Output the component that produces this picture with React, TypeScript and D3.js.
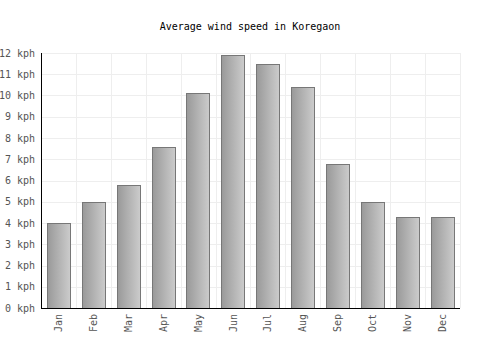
import React, { useRef, useEffect } from 'react';
import * as d3 from 'd3';

const months = ['Jan', 'Feb', 'Mar', 'Apr', 'May', 'Jun', 'Jul', 'Aug', 'Sep', 'Oct', 'Nov', 'Dec'];
const windSpeed = [4, 5, 5.8, 7.6, 10.1, 11.9, 11.5, 10.4, 6.8, 5, 4.3, 4.3];
const yTicks = [0, 1, 2, 3, 4, 5, 6, 7, 8, 9, 10, 11, 12];
const title = 'Average wind speed in Koregaon';

const width = 500;
const height = 350;
const font = "'DejaVu Sans Mono', monospace";

const App = () => {
  const svgRef = useRef<SVGSVGElement>(null);

  useEffect(() => {
    const svg = d3.select(svgRef.current);
    svg.selectAll('*').remove();

    const margin = { top: 53, right: 40, bottom: 42, left: 41 };
    const innerWidth = width - margin.left - margin.right;
    const innerHeight = height - margin.top - margin.bottom;

    const x = d3.scaleBand().domain(months).range([0, innerWidth]).padding(0);
    const y = d3.scaleLinear().domain([0, 12]).range([innerHeight, 0]);

    const grad = svg.append('defs').append('linearGradient')
      .attr('id', 'barGrad')
      .attr('x1', '0%').attr('x2', '100%').attr('y1', '0%').attr('y2', '0%');
    grad.append('stop').attr('offset', '0%').attr('stop-color', '#999');
    grad.append('stop').attr('offset', '100%').attr('stop-color', '#ccc');

    svg.append('text')
      .attr('x', width / 2)
      .attr('y', 30)
      .attr('text-anchor', 'middle')
      .style('font-family', font)
      .style('font-size', '10px')
      .style('fill', '#000')
      .text(title);

    const g = svg.append('g').attr('transform', `translate(${margin.left},${margin.top})`);

    // grid
    g.selectAll('.hgrid')
      .data(yTicks)
      .enter()
      .append('line')
      .attr('x1', 0)
      .attr('x2', innerWidth)
      .attr('y1', d => Math.round(y(d)) + 0.5)
      .attr('y2', d => Math.round(y(d)) + 0.5)
      .style('stroke', '#eee')
      .style('stroke-width', 1);

    g.selectAll('.vgrid')
      .data(months)
      .enter()
      .append('line')
      .attr('x1', d => Math.round((x(d) as number) + x.bandwidth()) + 0.5)
      .attr('x2', d => Math.round((x(d) as number) + x.bandwidth()) + 0.5)
      .attr('y1', 0)
      .attr('y2', innerHeight)
      .style('stroke', '#eee')
      .style('stroke-width', 1);

    // bars
    const barW = x.bandwidth() * 0.67;
    g.selectAll('.bar')
      .data(windSpeed)
      .enter()
      .append('rect')
      .attr('x', (d, i) => Math.round((x(months[i]) as number) + x.bandwidth() / 2 - barW / 2) + 0.5)
      .attr('y', d => Math.round(y(d)) + 0.5)
      .attr('width', Math.round(barW))
      .attr('height', d => innerHeight - Math.round(y(d)))
      .style('fill', 'url(#barGrad)')
      .style('stroke', '#777')
      .style('stroke-width', 1);

    // axes lines
    g.append('line')
      .attr('x1', 0.5).attr('x2', 0.5)
      .attr('y1', 0).attr('y2', innerHeight + 1)
      .style('stroke', '#000');
    g.append('line')
      .attr('x1', 0).attr('x2', innerWidth)
      .attr('y1', innerHeight + 0.5).attr('y2', innerHeight + 0.5)
      .style('stroke', '#000');

    // y labels
    g.selectAll('.ylab')
      .data(yTicks)
      .enter()
      .append('text')
      .attr('x', -6)
      .attr('y', d => y(d))
      .attr('dy', '0.35em')
      .attr('text-anchor', 'end')
      .style('font-family', font)
      .style('font-size', '10px')
      .style('fill', '#555')
      .text(d => `${d} kph`);

    // x labels
    g.selectAll('.xlab')
      .data(months)
      .enter()
      .append('text')
      .attr('transform', d => `translate(${(x(d) as number) + x.bandwidth() / 2 + 3.5},${innerHeight + 6}) rotate(-90)`)
      .attr('text-anchor', 'end')
      .style('font-family', font)
      .style('font-size', '10px')
      .style('fill', '#555')
      .text(d => d);
  }, []);

  return (
    <svg
      ref={svgRef}
      width={width}
      height={height}
      style={{ position: 'absolute', left: 0, top: 0, background: '#fff' }}
    />
  );
};

export default App;
